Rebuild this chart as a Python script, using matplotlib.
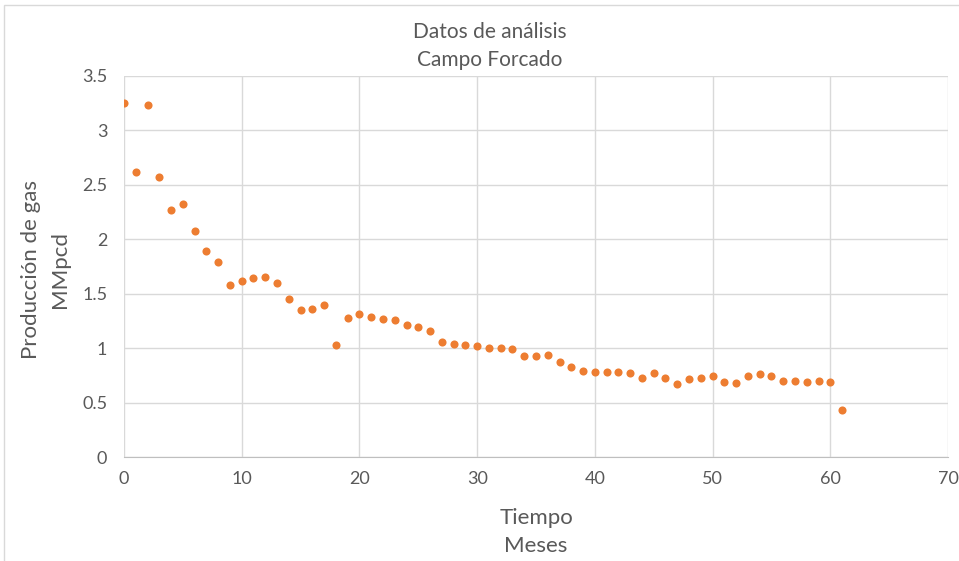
import matplotlib.pyplot as plt
from matplotlib.patches import Rectangle

# datos
meses = list(range(0, 62))
produccion = [3.25, 2.62, 3.23, 2.57, 2.27, 2.32, 2.08, 1.89, 1.79, 1.58,
              1.62, 1.64, 1.65, 1.60, 1.45, 1.35, 1.36, 1.40, 1.03, 1.28,
              1.31, 1.29, 1.27, 1.26, 1.21, 1.19, 1.16, 1.06, 1.04, 1.03,
              1.02, 1.00, 1.00, 0.99, 0.93, 0.93, 0.94, 0.87, 0.83, 0.79,
              0.78, 0.78, 0.78, 0.77, 0.73, 0.77, 0.73, 0.67, 0.72, 0.73,
              0.74, 0.69, 0.68, 0.74, 0.76, 0.74, 0.70, 0.70, 0.69, 0.70,
              0.69, 0.43]
x_ticks = [0, 10, 20, 30, 40, 50, 60, 70]
y_ticks = [0, 0.5, 1, 1.5, 2, 2.5, 3, 3.5]
y_labels = ["0", "0.5", "1", "1.5", "2", "2.5", "3", "3.5"]


def main():
    plt.rcParams['font.family'] = ['Lato', 'DejaVu Sans']
    gris = "#595959"

    fig = plt.figure(figsize=(9.59, 5.61), dpi=100)
    ax = fig.add_axes([124 / 959, 1 - 457 / 561, 824 / 959, 381 / 561])

    fig.patches.append(Rectangle((4 / 959, -0.01), 1.0, 1 - 5 / 561 + 0.01,
                                 transform=fig.transFigure, fill=False,
                                 edgecolor="#d9d9d9", linewidth=1))

    ax.scatter(meses, produccion, s=34, color="#ED7D31", zorder=3,
               linewidths=0)

    ax.set_xlim(0, 70)
    ax.set_ylim(0, 3.5)
    ax.set_xticks(x_ticks)
    ax.set_yticks(y_ticks)
    ax.set_yticklabels(y_labels)
    ax.grid(True, color="#d9d9d9", linewidth=1)
    ax.set_axisbelow(True)
    for side in ["top", "right", "left"]:
        ax.spines[side].set_visible(False)
    ax.spines["bottom"].set_color("#bfbfbf")
    ax.tick_params(length=0, labelsize=13, colors=gris, pad=10)
    ax.tick_params(axis="y", pad=12)

    fig.text(490 / 959, 1 - 32 / 561, "Datos de análisis", ha="center",
             va="center", fontsize=15, color=gris)
    fig.text(490 / 959, 1 - 60 / 561, "Campo Forcado", ha="center",
             va="center", fontsize=15, color=gris)
    fig.text(536 / 959, 1 - 518 / 561, "Tiempo", ha="center", va="center",
             fontsize=16, color=gris)
    fig.text(536 / 959, 1 - 546 / 561, "Meses", ha="center", va="center",
             fontsize=16, color=gris)
    fig.text(31 / 959, 1 - 270 / 561, "Producción de gas", ha="center",
             va="center", rotation=90, fontsize=16, color=gris)
    fig.text(60 / 959, 1 - 270 / 561, "MMpcd", ha="center",
             va="center", rotation=90, fontsize=16, color=gris)

    fig.savefig("out.png", dpi=100)


if __name__ == "__main__":
    main()
